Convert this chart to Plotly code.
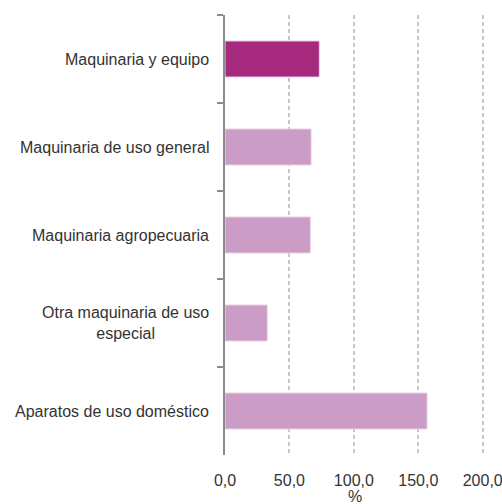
import plotly.graph_objects as go

# Categories, top to bottom
categorias = [
    "Maquinaria y equipo",
    "Maquinaria de uso general",
    "Maquinaria agropecuaria",
    "Otra maquinaria de uso<br>especial",
    "Aparatos de uso doméstico",
]
valores = [73.2, 66.8, 66.2, 32.8, 156.8]
colores = ["#A62B7F", "#CB9CC5", "#CB9CC5", "#CB9CC5", "#CB9CC5"]
ticks_x = [0, 50, 100, 150, 200]
unidad_x = "%"

font_family = "Liberation Sans, Arial, sans-serif"
text_color = "#333333"
font_size = 16

fig = go.Figure(
    go.Bar(
        x=valores,
        y=categorias,
        orientation="h",
        marker=dict(color=colores, line=dict(color="#EBD3E6", width=1)),
        width=0.41,
        hoverinfo="x+y",
    )
)

# Category labels as annotations so wrapped lines stay centered
for cat in categorias:
    fig.add_annotation(
        x=0, xref="paper", y=cat, yref="y",
        text=cat, showarrow=False,
        xanchor="right", align="center",
        xshift=-15, borderpad=0,
        font=dict(family=font_family, size=font_size, color=text_color),
    )

# Unit label under the x axis
fig.add_annotation(
    x=0.5, xref="paper", y=0, yref="paper",
    text=unidad_x, showarrow=False,
    xanchor="center", yanchor="middle",
    yshift=-41, borderpad=0,
    font=dict(family=font_family, size=font_size, color=text_color),
)

fig.update_layout(
    width=502, height=504,
    margin=dict(l=225, r=18, t=15, b=49),
    paper_bgcolor="white", plot_bgcolor="white",
    separators=",.",
    showlegend=False,
    font=dict(family=font_family, size=font_size, color=text_color),
)

fig.update_xaxes(
    range=[0, 201],
    tickvals=ticks_x,
    tickformat=".1f",
    automargin=False,
    ticklabeloverflow="allow",
    showgrid=True, gridcolor="#C8C8C8", gridwidth=1.5, griddash="4px,3px",
    zeroline=False, showline=False,
    ticks="", ticklabelstandoff=14,
    tickfont=dict(size=font_size),
)

fig.update_yaxes(
    categoryorder="array", categoryarray=categorias,
    autorange="reversed",
    automargin=False,
    showticklabels=False,
    showline=True, linecolor="#8A8A8A", linewidth=1.5,
    ticks="outside", tickson="boundaries", ticklen=6, tickcolor="#8A8A8A", tickwidth=1.5,
    showgrid=False,
)

fig.write_html("out.html")
